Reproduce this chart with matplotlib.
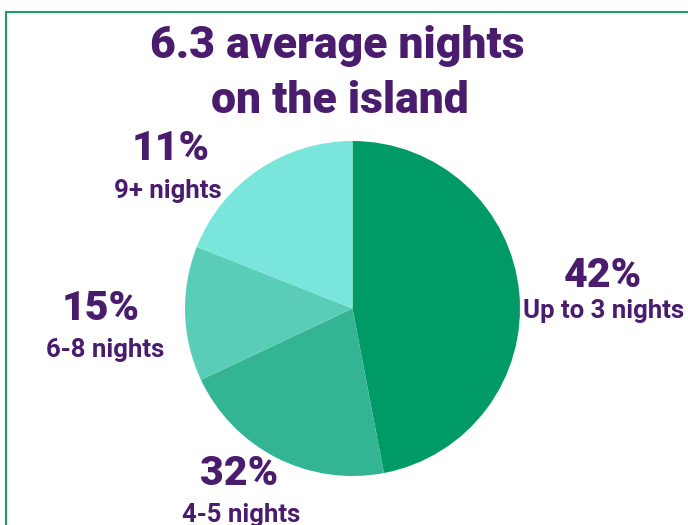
import matplotlib
matplotlib.use('Agg')
import matplotlib.pyplot as plt
from matplotlib.patches import Rectangle

W, H = 688, 525

# wedge shares as drawn, and the labels printed next to them
shares = [47, 21, 13, 19]
pct_labels = ["42%", "32%", "15%", "11%"]
cat_labels = ["Up to 3 nights", "4-5 nights", "6-8 nights", "9+ nights"]
colors = ["#009a66", "#33b593", "#5acdb8", "#7ae6db"]

purple = "#4a1c6e"
plt.rcParams['font.family'] = ['Roboto', 'DejaVu Sans']


def fx(x):
    return x / W


def fy(y):
    return 1 - y / H


fig = plt.figure(figsize=(W / 100, H / 100), dpi=100)

# green frame, running off the right and bottom edges
fig.patches.append(Rectangle((fx(6), fy(600)), fx(800), 600 / H + fy(12) - 1,
                             transform=fig.transFigure, fill=False,
                             edgecolor="#1a9e6a", linewidth=1.5))

ax = fig.add_axes([fx(185), fy(476), 335 / W, 335 / H])
ax.pie(shares, colors=colors, startangle=90, counterclock=False,
       wedgeprops=dict(linewidth=0))
ax.set_xlim(-1, 1)
ax.set_ylim(-1, 1)
ax.axis('off')

fig.text(fx(337), fy(58), "6.3 average nights", ha='center', va='baseline',
         fontsize=32, fontweight='black', color=purple)
fig.text(fx(340), fy(113), "on the island", ha='center', va='baseline',
         fontsize=32, fontweight='black', color=purple)

# label positions (centre x, baseline of % , baseline of category)
lab_x = [603, 239, 101, 171]
pct_y = [287, 485, 320, 160]
cat_x = [604, 241, 105, 168]
cat_y = [318, 522, 357, 198]

for i in range(len(shares)):
    fig.text(fx(lab_x[i]), fy(pct_y[i]), pct_labels[i], ha='center',
             va='baseline', fontsize=29.5, fontweight='black', color=purple)
    fig.text(fx(cat_x[i]), fy(cat_y[i]), cat_labels[i], ha='center',
             va='baseline', fontsize=18.5, fontweight='bold', color=purple)

fig.savefig('out.png', dpi=100)
